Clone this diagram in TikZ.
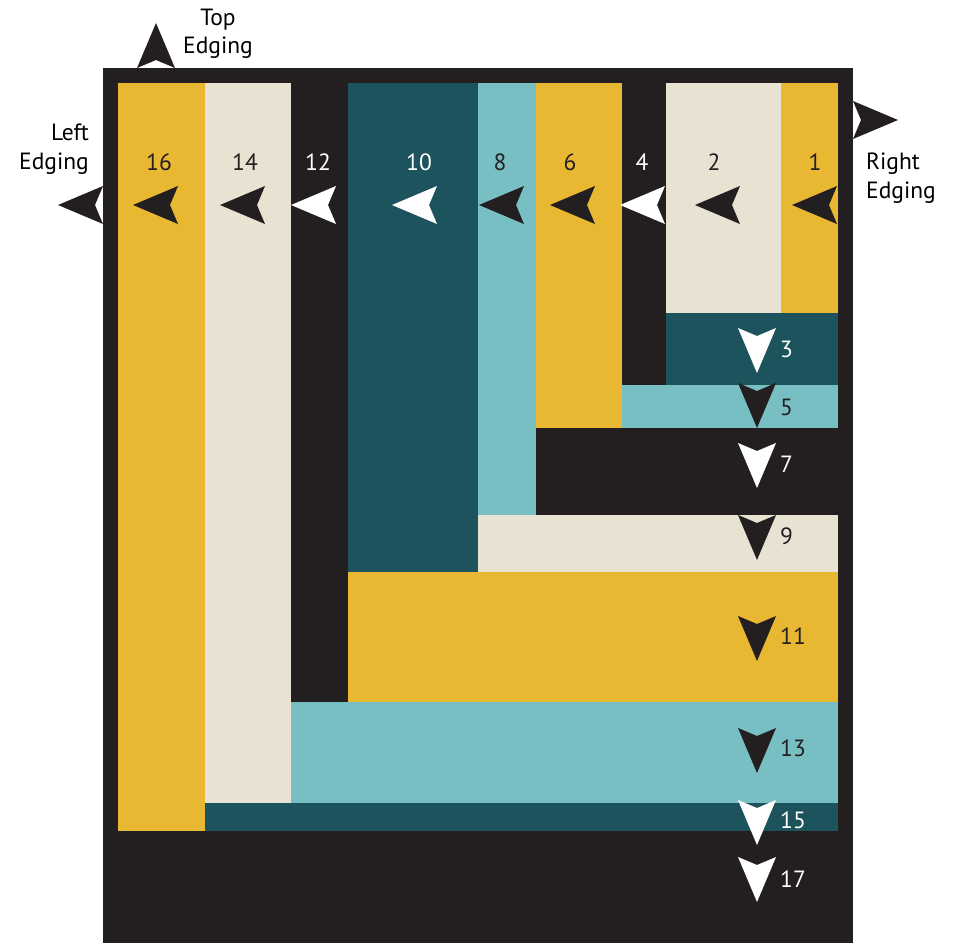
\documentclass[tikz,border=0pt]{standalone}
\usepackage{fontspec}
\setmainfont{PT Sans}
\usepackage{xcolor}
\usepackage{tikz}
\definecolor{quiltblack}{HTML}{231F20}
\definecolor{quiltgold}{HTML}{E9B832}
\definecolor{quiltcream}{HTML}{E7E2D2}
\definecolor{quiltteal}{HTML}{1C535C}
\definecolor{quiltaqua}{HTML}{78BFC3}
\tikzset{
	dart/.pic={\fill (0,0)--(45,-19)--(37,0)--(45,19)--cycle;},
	num/.style={font=\fontsize{23.5}{28.5}\selectfont,inner sep=0pt},
}

\begin{document}
\begin{tikzpicture}[x=1pt,y=-1pt]
	\useasboundingbox (0,0) rectangle (953,943);
	\fill[quiltblack] (103,68) rectangle (853,943);
	\fill[quiltgold] (118,83) rectangle (205,831);
	\fill[quiltcream] (205,83) rectangle (291,803);
	\fill[quiltteal] (348,83) rectangle (478,572);
	\fill[quiltaqua] (478,83) rectangle (536,515);
	\fill[quiltgold] (536,83) rectangle (622,428);
	\fill[quiltcream] (666,83) rectangle (781,313);
	\fill[quiltgold] (781,83) rectangle (838,313);
	\fill[quiltteal] (666,313) rectangle (838,385);
	\fill[quiltaqua] (622,385) rectangle (838,428);
	\fill[quiltcream] (478,515) rectangle (838,572);
	\fill[quiltgold] (348,572) rectangle (838,702);
	\fill[quiltaqua] (291,702) rectangle (838,803);
	\fill[quiltteal] (205,803) rectangle (838,831);
	% edging arrows
	\pic[quiltblack] at (58,205) {dart};
	\pic[quiltblack,rotate=-90] at (156,23) {dart};
	\pic[quiltblack,rotate=180] at (898,120) {dart};
	\node[num,anchor=east,align=right] (leftedge) at (89,149) {Left\\Edging};
	\node[num,align=center] (topedge) at (218,34) {Top\\Edging};
	\node[num,anchor=west,align=left] (rightedge) at (866,178) {Right\\Edging};
	% strips, right to left
	\pic[quiltblack] at (792,205) {dart};
	\pic[quiltblack] at (695,205) {dart};
	\pic[white] at (620,205) {dart};
	\pic[quiltblack] at (550,205) {dart};
	\pic[quiltblack] at (479,205) {dart};
	\pic[white] at (392,205) {dart};
	\pic[white] at (291,205) {dart};
	\pic[quiltblack] at (220,205) {dart};
	\pic[quiltblack] at (133,205) {dart};
	\node[num,text=quiltblack] (n1) at (815,162) {1};
	\node[num,text=quiltblack] (n2) at (714,162) {2};
	\node[num,text=white] (n4) at (642,162) {4};
	\node[num,text=quiltblack] (n6) at (570,162) {6};
	\node[num,text=quiltblack] (n8) at (500,162) {8};
	\node[num,text=white] (n10) at (419,162) {10};
	\node[num,text=white] (n12) at (318,162) {12};
	\node[num,text=quiltblack] (n14) at (245,162) {14};
	\node[num,text=quiltblack] (n16) at (159,162) {16};
	% strips, top to bottom
	\pic[white,rotate=90] at (757,373) {dart};
	\pic[quiltblack,rotate=90] at (757,428) {dart};
	\pic[white,rotate=90] at (757,488) {dart};
	\pic[quiltblack,rotate=90] at (757,560) {dart};
	\pic[quiltblack,rotate=90] at (757,661) {dart};
	\pic[quiltblack,rotate=90] at (757,773) {dart};
	\pic[white,rotate=90] at (757,845) {dart};
	\pic[white,rotate=90] at (757,902) {dart};
	\node[num,anchor=west,text=white] (n3) at (780,349) {3};
	\node[num,anchor=west,text=quiltblack] (n5) at (780,407) {5};
	\node[num,anchor=west,text=white] (n7) at (780,464) {7};
	\node[num,anchor=west,text=quiltblack] (n9) at (780,536) {9};
	\node[num,anchor=west,text=quiltblack] (n11) at (780,636) {11};
	\node[num,anchor=west,text=quiltblack] (n13) at (780,748) {13};
	\node[num,anchor=west,text=white] (n15) at (780,820) {15};
	\node[num,anchor=west,text=white] (n17) at (780,879) {17};
\end{tikzpicture}
\end{document}
